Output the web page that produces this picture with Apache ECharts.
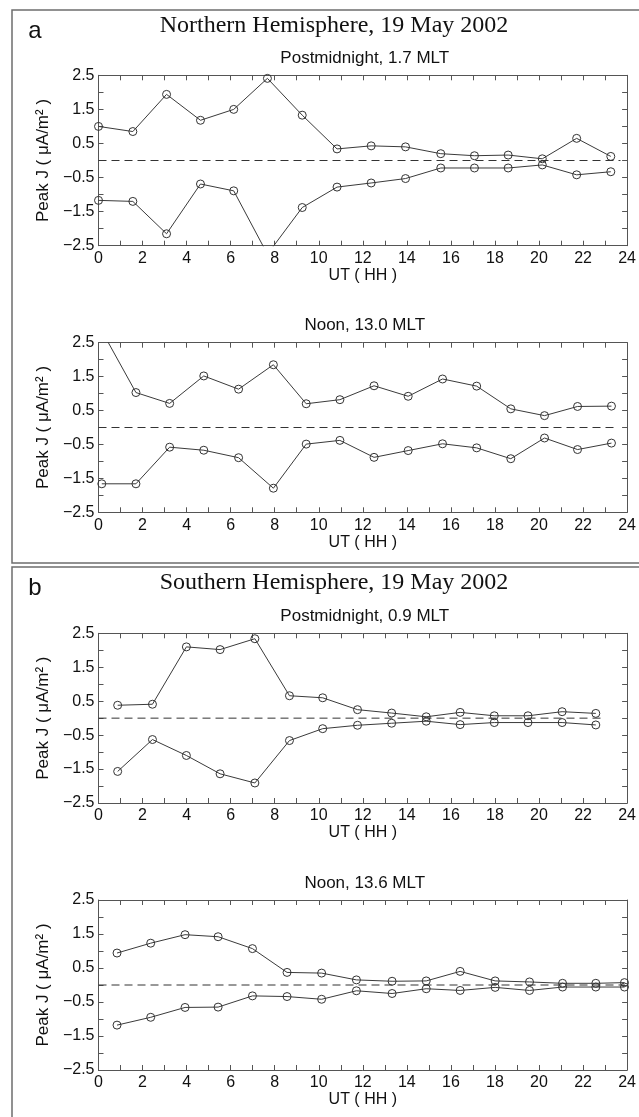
<!DOCTYPE html>
<html><head><meta charset="utf-8">
<script src="https://cdn.jsdelivr.net/npm/echarts@6/dist/echarts.min.js"></script>
<style>html,body{margin:0;padding:0;background:#fff}#c{width:639px;height:1117px}</style>
</head><body><div id="c"></div><script>
// ---- data ----
const sectionTitles = ['Northern Hemisphere, 19 May 2002', 'Southern Hemisphere, 19 May 2002'];
const sectionLetters = ['a', 'b'];
const panelTitles = ['Postmidnight, 1.7 MLT', 'Noon, 13.0 MLT', 'Postmidnight, 0.9 MLT', 'Noon, 13.6 MLT'];
const xAxisTitle = 'UT ( HH )';
const yAxisTitle = 'Peak J ( \u03bcA/m\u00b2 )';

const nPostUT   = [0, 1.56, 3.09, 4.63, 6.14, 7.67, 9.25, 10.83, 12.38, 13.94, 15.54, 17.07, 18.6, 20.15, 21.71, 23.26];
const nPostUp   = [1.00, 0.85, 1.94, 1.18, 1.50, 2.41, 1.33, 0.34, 0.43, 0.40, 0.20, 0.14, 0.16, 0.05, 0.65, 0.12];
const nPostDown = [-1.17, -1.20, -2.15, -0.69, -0.89, -2.75, -1.38, -0.78, -0.66, -0.53, -0.22, -0.22, -0.22, -0.13, -0.42, -0.33];

const nNoonUT   = [0.15, 1.70, 3.23, 4.78, 6.36, 7.94, 9.43, 10.96, 12.51, 14.06, 15.62, 17.17, 18.72, 20.25, 21.75, 23.29];
const nNoonUp   = [2.85, 1.03, 0.71, 1.52, 1.13, 1.85, 0.70, 0.82, 1.23, 0.92, 1.43, 1.22, 0.55, 0.35, 0.62, 0.63];
const nNoonDown = [-1.66, -1.66, -0.58, -0.67, -0.89, -1.79, -0.49, -0.38, -0.88, -0.68, -0.48, -0.60, -0.92, -0.31, -0.65, -0.46];

const sPostUT   = [0.87, 2.45, 3.99, 5.52, 7.10, 8.67, 10.18, 11.76, 13.31, 14.88, 16.42, 17.97, 19.50, 21.05, 22.58];
const sPostUp   = [0.38, 0.41, 2.10, 2.02, 2.34, 0.66, 0.60, 0.25, 0.15, 0.04, 0.17, 0.07, 0.07, 0.19, 0.14];
const sPostDown = [-1.57, -0.63, -1.10, -1.64, -1.91, -0.66, -0.31, -0.21, -0.15, -0.09, -0.19, -0.13, -0.13, -0.13, -0.20];

const sNoonUT   = [0.84, 2.37, 3.93, 5.43, 6.99, 8.56, 10.13, 11.71, 13.33, 14.88, 16.42, 18.01, 19.57, 21.07, 22.58, 23.88];
const sNoonUp   = [0.94, 1.23, 1.48, 1.42, 1.07, 0.37, 0.35, 0.15, 0.11, 0.12, 0.40, 0.12, 0.09, 0.05, 0.05, 0.07];
const sNoonDown = [-1.18, -0.95, -0.66, -0.65, -0.32, -0.34, -0.42, -0.17, -0.25, -0.11, -0.16, -0.07, -0.16, -0.06, -0.06, -0.06];

const zeroLineEnd = [23.7, 23.6, 22.95, 23.9];
const xMin = 0, xMax = 24, xStep = 1;
const yMin = -2.5, yMax = 2.5, yStep = 0.5;

// ---- layout ----
const panels = [
  { ut: nPostUT, up: nPostUp, down: nPostDown },
  { ut: nNoonUT, up: nNoonUp, down: nNoonDown },
  { ut: sPostUT, up: sPostUp, down: sPostDown },
  { ut: sNoonUT, up: sNoonUp, down: sNoonDown }
];
const gridPos = [
  { left: 98.5, top: 75.3, width: 532.5, height: 170.4 },
  { left: 98.5, top: 342.7, width: 532.5, height: 169.6 },
  { left: 98.5, top: 633.3, width: 532.5, height: 169.7 },
  { left: 98.5, top: 900, width: 532.5, height: 170 }
];
const SANS = '"Liberation Sans", Arial, Helvetica, sans-serif';
const SERIF = '"Liberation Serif", "Times New Roman", serif';
const AX = '#555';
const fmtY = v => {
  if (Math.abs(((v - yMin) % 1 + 1) % 1) > 1e-6) return '';
  const s = Math.abs(v).toFixed(1);
  return v < 0 ? '\u2212' + s : s;
};
const fmtX = v => (Math.round(v) % 2 === 0 ? String(Math.round(v)) : '');
const line = { show: true, onZero: false, lineStyle: { color: AX, width: 1 } };
const tick = { show: true, inside: true, length: 5, lineStyle: { color: AX, width: 1 } };

const grid = [], xAxis = [], yAxis = [], series = [], graphic = [];
panels.forEach((p, i) => {
  grid.push(Object.assign({ show: false }, gridPos[i]));
  const common = { gridIndex: i, type: 'value', splitLine: { show: false }, axisLine: line, axisTick: tick };
  xAxis.push(Object.assign({}, common, {
    position: 'bottom', min: xMin, max: xMax, interval: xStep,
    axisLabel: { show: true, formatter: fmtX, color: '#111', fontFamily: SANS, fontSize: 16, margin: 5,
                 showMinLabel: true, showMaxLabel: true, hideOverlap: false },
    name: xAxisTitle, nameLocation: 'middle', nameGap: 21,
    nameTextStyle: { color: '#111', fontFamily: SANS, fontSize: 16 }
  }));
  xAxis.push(Object.assign({}, common, {
    position: 'top', min: xMin, max: xMax, interval: xStep, axisLabel: { show: false }
  }));
  yAxis.push(Object.assign({}, common, {
    position: 'left', min: yMin, max: yMax, interval: yStep,
    axisLabel: { show: true, formatter: fmtY, color: '#111', fontFamily: SANS, fontSize: 16, margin: 4,
                 showMinLabel: true, showMaxLabel: true, hideOverlap: false }
  }));
  yAxis.push(Object.assign({}, common, {
    position: 'right', min: yMin, max: yMax, interval: yStep, axisLabel: { show: false }
  }));
  const mk = vals => ({
    type: 'line', xAxisIndex: 2 * i, yAxisIndex: 2 * i, clip: true, animation: false,
    data: p.ut.map((t, k) => [t, vals[k]]),
    symbol: 'circle', symbolSize: 8,
    lineStyle: { color: '#3a3a3a', width: 1 },
    itemStyle: { color: 'rgba(0,0,0,0)', borderColor: '#333', borderWidth: 1 },
    emphasis: { disabled: true }, silent: true, z: 3
  });
  series.push(mk(p.up), mk(p.down));
  series.push({
    type: 'line', xAxisIndex: 2 * i, yAxisIndex: 2 * i, animation: false, silent: true,
    data: [[xMin, 0], [zeroLineEnd[i], 0]], symbol: 'none',
    lineStyle: { color: '#333', width: 1, type: [8, 5] }, z: 2
  });
  const g = gridPos[i];
  graphic.push({
    type: 'text', x: g.left + g.width / 2, y: g.top - 17,
    style: { text: panelTitles[i], font: '17px ' + SANS, fill: '#111', align: 'center', verticalAlign: 'middle' }
  });
  graphic.push({
    type: 'text', x: 43, y: g.top + g.height / 2, rotation: Math.PI / 2,
    style: { text: yAxisTitle, font: '17px ' + SANS, fill: '#111', align: 'center', verticalAlign: 'middle' }
  });
});
// section boxes and titles
const boxes = [{ y: 10, h: 553 }, { y: 567, h: 600 }];
boxes.forEach((b, j) => {
  graphic.push({
    type: 'rect', shape: { x: 12, y: b.y, width: 700, height: b.h },
    style: { fill: 'none', stroke: '#6e6e6e', lineWidth: 1.5 }, z: -1
  });
  graphic.push({
    type: 'text', x: 334, y: b.y + 16,
    style: { text: sectionTitles[j], font: '24px ' + SERIF, fill: '#111', align: 'center', verticalAlign: 'middle' }
  });
  graphic.push({
    type: 'text', x: 35, y: b.y + 21,
    style: { text: sectionLetters[j], font: '24px ' + SANS, fill: '#111', align: 'center', verticalAlign: 'middle' }
  });
});

const chart = echarts.init(document.getElementById('c'), null, { renderer: 'canvas' });
chart.setOption({ animation: false, backgroundColor: '#fff', grid, xAxis, yAxis, series, graphic });
</script></body></html>
